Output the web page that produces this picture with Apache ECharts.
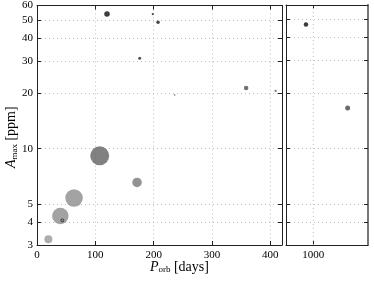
<!DOCTYPE html>
<html><head><meta charset="utf-8">
<script src="https://cdn.jsdelivr.net/npm/echarts@6/dist/echarts.min.js"></script>
<style>html,body{margin:0;padding:0;background:#fff}#c{width:374px;height:281px}</style>
</head><body><div id="c"></div>
<script>
// ---- data ----
// left panel: orbital period [days], max amplitude [ppm], relative marker size, grey level (0=black,1=white)
const periodLeft = [107.5, 63.5, 40, 171.5, 19.5, 358.5, 120, 176, 198.5, 207.5, 236, 409];
const ampLeft    = [9.15, 5.40, 4.31, 6.56, 3.22, 21.4, 54, 31, 53.9, 48.7, 19.6, 20.6];
const sizeLeft   = [19, 17.5, 16.5, 9.5, 8, 4.5, 5.5, 3, 2.2, 3.5, 1.8, 2.2];
const shadeLeft  = [0.38, 0.55, 0.55, 0.47, 0.6, 0.3, 0.05, 0.15, 0.1, 0.1, 0.5, 0.35];
// highlighted (outlined) point
const periodRing = [43.5];
const ampRing    = [4.08];
// right panel
const periodRight = [946, 1251];
const ampRight    = [47.1, 16.6];
const sizeRight   = [4.5, 5];
const shadeRight  = [0.05, 0.28];
// ticks
const yTicks = [3, 4, 5, 10, 20, 30, 40, 50, 60];
const xTicksRight = [1000];
const yRange = [3, 60];

const FONT = 'Liberation Serif';
const lineCol = '#222';
const gridCol = '#bdbdbd';

function grey(s){ const v = Math.round(s*255); return 'rgb('+v+','+v+','+v+')'; }
function pts(xs, ys, ss, gs){
  return xs.map((x,i)=>({value:[x, ys[i]], symbolSize: ss ? ss[i] : 3,
    itemStyle: gs ? {color: grey(gs[i])} : undefined}));
}

const commonTick = {show:true, inside:true, length:4, lineStyle:{color:lineCol, width:1}};
const split = {show:true, lineStyle:{type:[1,3], color:gridCol, width:1}};

const vGridSeries = xTicksRight.map(v => ({
  type:'line', xAxisIndex:1, yAxisIndex:1, silent:true, symbol:'none', z:0,
  lineStyle:{type:[1,3], color:gridCol, width:1},
  data: yRange.map(y => [v, y])
}));

const option = {
  animation:false,
  backgroundColor:'#fff',
  grid:[
    {left:37, top:5, width:245, height:240, show:false},
    {left:286, top:5, width:82, height:240, show:false}
  ],
  xAxis:[
    {type:'value', gridIndex:0, min:0, max:420, interval:100, position:'bottom',
     axisLine:{show:true, onZero:false, lineStyle:{color:lineCol, width:1}},
     axisTick:commonTick, splitLine:split,
     axisLabel:{color:'#000', fontFamily:FONT, fontSize:11, margin:5, showMaxLabel:false}},
    {type:'value', gridIndex:1, min:800, max:1400, position:'bottom',
     axisLine:{show:true, onZero:false, lineStyle:{color:lineCol, width:1}},
     axisTick:Object.assign({customValues:xTicksRight}, commonTick), splitLine:{show:false},
     axisLabel:{color:'#000', fontFamily:FONT, fontSize:11, margin:5, customValues:xTicksRight,
       formatter:(v)=>String(v)}},
    {type:'value', gridIndex:0, min:0, max:420, interval:100, position:'top',
     axisLine:{show:true, onZero:false, lineStyle:{color:lineCol, width:1}},
     axisTick:commonTick, splitLine:{show:false}, axisLabel:{show:false}},
    {type:'value', gridIndex:1, min:800, max:1400, position:'top',
     axisLine:{show:true, onZero:false, lineStyle:{color:lineCol, width:1}},
     axisTick:Object.assign({customValues:xTicksRight}, commonTick), splitLine:{show:false}, axisLabel:{show:false}}
  ],
  yAxis:[
    {type:'log', gridIndex:0, logBase:10, min:yRange[0], max:yRange[1], position:'left',
     axisLine:{show:true, onZero:false, lineStyle:{color:lineCol, width:1}},
     axisTick:Object.assign({customValues:yTicks}, commonTick), splitLine:split,
     axisLabel:{color:'#000', fontFamily:FONT, fontSize:11, margin:4, customValues:yTicks}},
    {type:'log', gridIndex:1, logBase:10, min:yRange[0], max:yRange[1], position:'left',
     axisLine:{show:true, onZero:false, lineStyle:{color:lineCol, width:1}},
     axisTick:Object.assign({customValues:yTicks}, commonTick), splitLine:split,
     axisLabel:{show:false}},
    {type:'log', gridIndex:0, logBase:10, min:yRange[0], max:yRange[1], position:'right',
     axisLine:{show:true, onZero:false, lineStyle:{color:lineCol, width:1}},
     axisTick:Object.assign({customValues:yTicks}, commonTick), splitLine:{show:false},
     axisLabel:{show:false}},
    {type:'log', gridIndex:1, logBase:10, min:yRange[0], max:yRange[1], position:'right',
     axisLine:{show:true, onZero:false, lineStyle:{color:'#777', width:2}},
     axisTick:Object.assign({customValues:yTicks}, commonTick), splitLine:{show:false},
     axisLabel:{show:false}}
  ],
  series: vGridSeries.concat([
    {type:'scatter', xAxisIndex:0, yAxisIndex:0, symbol:'circle',
     data: pts(periodLeft, ampLeft, sizeLeft, shadeLeft), z:2},
    {type:'scatter', xAxisIndex:0, yAxisIndex:0, symbol:'circle', symbolSize:3.5,
     itemStyle:{color:'#8a8a8a', borderColor:'#111', borderWidth:0.8},
     data: pts(periodRing, ampRing), z:3},
    {type:'scatter', xAxisIndex:1, yAxisIndex:1, symbol:'circle',
     data: pts(periodRight, ampRight, sizeRight, shadeRight), z:2}
  ]),
  graphic:[
    {type:'text', left:150, top:260, style:{
      text:'{i|P}{s|orb} {n|[days]}', rich:{
        i:{fontFamily:FONT, fontStyle:'italic', fontSize:14, fill:'#000'},
        s:{fontFamily:FONT, fontSize:9, fill:'#000', padding:[6,0,0,0]},
        n:{fontFamily:FONT, fontSize:14, fill:'#000'}}}},
    {type:'text', x:4, y:168, rotation:Math.PI/2, style:{
      text:'{i|A}{s|max} {n|[ppm]}', rich:{
        i:{fontFamily:FONT, fontStyle:'italic', fontSize:14, fill:'#000'},
        s:{fontFamily:FONT, fontSize:9, fill:'#000', padding:[6,0,0,0]},
        n:{fontFamily:FONT, fontSize:14, fill:'#000'}}}}
  ]
};
const chart = echarts.init(document.getElementById('c'), null, {renderer:'canvas'});
chart.setOption(option);
</script>
</body></html>
